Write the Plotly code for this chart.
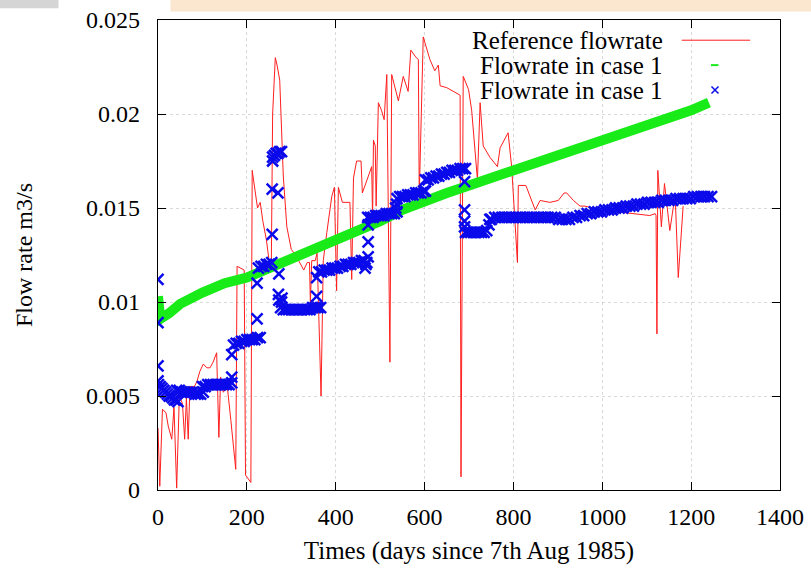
import plotly.graph_objects as go

# ---------------- data ----------------
ref_days = [0, 4, 10, 18, 23, 31, 36, 42, 48, 55, 60, 64, 68, 72, 82, 88, 94, 102, 110, 117,
            124, 132, 137, 141, 147, 156, 164, 175, 178, 194, 197, 209, 212, 218, 224, 230, 236,
            244, 250, 255, 258, 264, 268, 274, 278, 282, 290, 300, 312, 322, 328, 336, 341, 343,
            346, 354, 358, 367, 372, 380, 384, 391, 397, 402, 406, 415, 432, 436, 440, 447, 457,
            460, 475, 481, 483, 485, 489, 491, 496, 503, 509, 515, 522, 526, 541, 552, 563, 569,
            581, 586, 588, 597, 612, 623, 631, 635, 650, 680, 682, 687, 699, 706, 719, 725, 732,
            747, 764, 770, 788, 796, 809, 811, 828, 849, 860, 882, 901, 914, 920, 935, 950, 961,
            995, 1070, 1107, 1119, 1121, 1123, 1125, 1133, 1140, 1152, 1164, 1171, 1182]
ref_vals = [0.0033, 0.0002, 0.0043, 0.0041, 0.0034, 0.0027, 0.0044, 0.0001, 0.0050, 0.0046,
            0.0027, 0.0049, 0.0027, 0.0055, 0.0055, 0.0058, 0.0063, 0.0067, 0.0065, 0.0065,
            0.0068, 0.0073, 0.0028, 0.0060, 0.0052, 0.0055, 0.0037, 0.0011, 0.0119, 0.0117,
            0.0008, 0.0004, 0.0170, 0.0160, 0.0150, 0.0153, 0.0143, 0.0133, 0.0122, 0.0118,
            0.0200, 0.0230, 0.0226, 0.0218, 0.0195, 0.0167, 0.0140, 0.0128, 0.0124, 0.0120,
            0.0117, 0.0121, 0.0121, 0.0099, 0.0122, 0.0122, 0.0126, 0.0050, 0.0122, 0.0137,
            0.0145, 0.0156, 0.0161, 0.0106, 0.0161, 0.0153, 0.0153, 0.0112, 0.0166, 0.0175,
            0.0175, 0.0158, 0.0168, 0.0172, 0.0144, 0.0186, 0.0183, 0.0151, 0.0206, 0.0202,
            0.0197, 0.0221, 0.0068, 0.0221, 0.0207, 0.0220, 0.0212, 0.0234, 0.0230, 0.0229,
            0.0156, 0.0241, 0.0229, 0.0223, 0.0226, 0.0215, 0.0214, 0.0210, 0.0007, 0.0220,
            0.0213, 0.0202, 0.0165, 0.0206, 0.0183, 0.0177, 0.0172, 0.0182, 0.0190, 0.0172,
            0.0121, 0.0162, 0.0162, 0.0149, 0.0154, 0.0153, 0.0154, 0.0158, 0.0158, 0.0154,
            0.0151, 0.0151, 0.0149, 0.0147, 0.0146, 0.0147, 0.0146, 0.0083, 0.0170, 0.0140,
            0.0163, 0.0138, 0.0157, 0.0113, 0.0151]

case1_days = [0, 1, 5, 25, 50, 100, 150, 200, 250, 300, 350, 400, 450, 500, 550, 600, 650,
              700, 750, 800, 850, 900, 950, 1000, 1050, 1100, 1150, 1200, 1240]
case1_vals = [0.0103, 0.0092, 0.0091, 0.0094, 0.0099, 0.0105, 0.0110, 0.0113, 0.0118, 0.0123,
              0.0127, 0.0132, 0.0137, 0.0143, 0.0149, 0.0154, 0.0158, 0.0162, 0.0166, 0.0170,
              0.0174, 0.0177, 0.0181, 0.0185, 0.0189, 0.0194, 0.0198, 0.0202, 0.0206]

case1b_days = [
    0, 0, 0, 0,
    1, 5, 9, 13, 17, 21, 25, 29, 33, 37, 41, 45,
    42, 48, 54, 60, 66, 72, 78, 84, 90, 96, 102,
    100, 106, 112, 118, 124, 130, 136, 142, 148, 154, 160, 166,
    166, 166,
    170, 176, 182, 188, 194, 200, 206, 212, 218, 224, 230,
    223, 223,
    226, 232, 238, 244, 250, 256,
    257, 257, 258, 270, 272, 272, 271,
    258, 262, 266, 270, 274, 278,
    276, 282, 288, 294, 300, 306, 312, 318, 324, 330, 336, 342, 348, 354, 360, 366,
    357, 357, 278, 279,
    362, 368, 374, 380, 386, 392, 398, 404, 410, 416, 422, 428, 434, 440, 446, 452, 458, 464, 470,
    466, 468,
    473, 473, 473,
    472, 478, 484, 490, 496, 502, 508, 514, 520, 526, 532, 538,
    537, 535,
    538, 544, 550, 556, 562, 568, 574, 580, 586, 592, 598, 602,
    602, 608, 614, 620, 626, 632, 638, 644, 650, 656, 662, 668, 674, 680, 686, 692,
    690, 690, 690, 690,
    692, 698, 704, 710, 716, 722, 728, 734, 740,
    745, 747,
    750, 758, 766, 774, 782, 790, 798, 806, 814, 822, 830, 838, 846, 854, 862, 870, 878,
    886, 894, 902, 910, 918, 926, 934, 942, 950, 958, 966, 974, 982, 990, 998, 1006,
    1014, 1022, 1030, 1038, 1046, 1054, 1062, 1070, 1078, 1086, 1094, 1102, 1110, 1118,
    1126, 1134, 1142, 1150, 1158, 1166, 1174, 1182, 1190, 1198, 1206, 1214, 1222, 1230,
    1238, 1246]
case1b_vals = [
    0.0112, 0.0089, 0.0066, 0.0058,
    0.0056, 0.0055, 0.0054, 0.0053, 0.0052, 0.0051, 0.0050, 0.0050, 0.0049, 0.0048, 0.0048, 0.0047,
    0.0053, 0.0053, 0.0052, 0.0052, 0.0052, 0.0052, 0.0052, 0.0051, 0.0051, 0.0051, 0.0052,
    0.0055, 0.0055, 0.0056, 0.0056, 0.0056, 0.0056, 0.0056, 0.0056, 0.0056, 0.0056, 0.0056, 0.0057,
    0.0060, 0.0072,
    0.0077, 0.0078, 0.0078, 0.0079, 0.0079, 0.0080, 0.0080, 0.0080, 0.0080, 0.0081, 0.0081,
    0.0091, 0.0110,
    0.0118, 0.0119, 0.0119, 0.0120, 0.0120, 0.0121,
    0.0136, 0.0160, 0.0175, 0.0158, 0.0115, 0.0101, 0.0104,
    0.0177, 0.0178, 0.0179, 0.0179, 0.0180, 0.0180,
    0.0097, 0.0096, 0.0096, 0.0096, 0.0096, 0.0096, 0.0096, 0.0096, 0.0096, 0.0096, 0.0096,
    0.0096, 0.0097, 0.0097, 0.0097, 0.0097,
    0.0113, 0.0103, 0.0100, 0.0102,
    0.0116, 0.0116, 0.0117, 0.0117, 0.0117, 0.0118, 0.0118, 0.0118, 0.0119, 0.0119, 0.0120,
    0.0120, 0.0120, 0.0121, 0.0121, 0.0121, 0.0122, 0.0122, 0.0121,
    0.0118, 0.0120,
    0.0124, 0.0132, 0.0141,
    0.0145, 0.0145, 0.0145, 0.0146, 0.0146, 0.0146, 0.0146, 0.0147, 0.0147, 0.0147, 0.0147, 0.0148,
    0.0152, 0.0150,
    0.0155, 0.0156, 0.0156, 0.0156, 0.0157, 0.0157, 0.0157, 0.0158, 0.0158, 0.0158, 0.0159, 0.0159,
    0.0165, 0.0165, 0.0166, 0.0166, 0.0167, 0.0167, 0.0168, 0.0168, 0.0169, 0.0169, 0.0170,
    0.0170, 0.0170, 0.0171, 0.0171, 0.0171,
    0.0164, 0.0149, 0.0143, 0.0140,
    0.0137, 0.0137, 0.0137, 0.0137, 0.0137, 0.0137, 0.0137, 0.0137, 0.0138,
    0.0141, 0.0144,
    0.0144, 0.0145, 0.0145, 0.0145, 0.0145, 0.0145, 0.0145, 0.0145, 0.0145, 0.0145, 0.0145,
    0.0145, 0.0145, 0.0145, 0.0145, 0.0145, 0.0145,
    0.0145, 0.0145, 0.0144, 0.0144, 0.0144, 0.0144, 0.0145, 0.0145, 0.0146, 0.0146, 0.0147,
    0.0147, 0.0148, 0.0148, 0.0148, 0.0149,
    0.0149, 0.0149, 0.0150, 0.0150, 0.0150, 0.0151, 0.0151, 0.0151, 0.0152, 0.0152, 0.0152,
    0.0153, 0.0153, 0.0153,
    0.0153, 0.0154, 0.0154, 0.0154, 0.0154, 0.0155, 0.0155, 0.0155, 0.0155, 0.0155, 0.0156,
    0.0156, 0.0156, 0.0156,
    0.0156, 0.0156]

x_ticks = [0, 200, 400, 600, 800, 1000, 1200, 1400]
y_ticks = [0, 0.005, 0.01, 0.015, 0.02, 0.025]
y_tick_labels = ["0", "0.005", "0.01", "0.015", "0.02", "0.025"]

labels = ["Reference flowrate", "Flowrate in case 1", "Flowrate in case 1"]

RED = "rgb(255,30,30)"
GREEN = "rgb(25,235,25)"
BLUE = "rgb(10,10,235)"
FONT = "Liberation Serif, Times New Roman, serif"

fig = go.Figure()
fig.add_trace(go.Scatter(x=ref_days, y=ref_vals, mode="lines",
                         line=dict(color=RED, width=1), showlegend=False))
fig.add_trace(go.Scatter(x=case1_days, y=case1_vals, mode="lines",
                         line=dict(color=GREEN, width=10), showlegend=False))
fig.add_trace(go.Scatter(x=case1b_days, y=case1b_vals, mode="markers",
                         marker=dict(symbol="x-thin", size=11,
                                     line=dict(width=2.5, color=BLUE), color=BLUE),
                         showlegend=False))

# legend sample (blue cross) on overlay paper-like axes
fig.add_trace(go.Scatter(x=[0.8955], y=[0.851], xaxis="x2", yaxis="y2", mode="markers",
                         marker=dict(symbol="x-thin", size=7,
                                     line=dict(width=1.5, color=BLUE)),
                         showlegend=False, hoverinfo="skip"))

axis_common = dict(showline=True, linecolor="black", linewidth=1.2, mirror="allticks",
                   ticks="inside", ticklen=8, tickcolor="black", zeroline=False,
                   showgrid=True, gridcolor="rgba(170,170,170,0.45)", griddash="dot",
                   gridwidth=1, automargin=False,
                   tickfont=dict(family=FONT, size=24, color="black"))

fig.update_layout(
    width=811, height=571,
    margin=dict(l=158, r=31, t=20, b=81),
    paper_bgcolor="white", plot_bgcolor="white",
    font=dict(family=FONT, size=24, color="black"),
    xaxis=dict(range=[0, 1400], tickvals=x_ticks, ticklabelstandoff=5,
               title=dict(text="Times (days since 7th Aug 1985)", standoff=12,
                          font=dict(family=FONT, size=25)),
               **axis_common),
    yaxis=dict(range=[0, 0.025], tickvals=y_ticks, ticktext=y_tick_labels,
               ticklabelstandoff=12,
               title=dict(text="Flow rate m3/s", standoff=46,
                          font=dict(family=FONT, size=24)),
               **axis_common),
    xaxis2=dict(range=[0, 1], overlaying="x", visible=False),
    yaxis2=dict(range=[0, 1], overlaying="y", visible=False),
)

# legend texts (gnuplot style: text right-aligned, sample on the right)
for lab, yy in zip(labels, [0.957, 0.904, 0.851]):
    fig.add_annotation(text=lab, xref="paper", yref="paper", x=0.815, y=yy,
                       xanchor="right", yanchor="middle", showarrow=False,
                       font=dict(family=FONT, size=25, color="black"))

fig.add_shape(type="line", xref="paper", yref="paper", x0=0.842, x1=0.952,
              y0=0.957, y1=0.957, line=dict(color=RED, width=1))
fig.add_shape(type="line", xref="paper", yref="paper", x0=0.889, x1=0.901,
              y0=0.904, y1=0.904, line=dict(color=GREEN, width=2))

# faint coloured band at the top of the picture
fig.add_shape(type="rect", xref="paper", yref="paper", x0=0.02, x1=1.06,
              y0=1.018, y1=1.045, line=dict(width=0),
              fillcolor="rgba(250,222,192,0.75)", layer="below")
fig.add_shape(type="rect", xref="paper", yref="paper", x0=-0.26, x1=-0.16,
              y0=1.025, y1=1.045, line=dict(width=0),
              fillcolor="rgba(195,195,195,0.7)", layer="below")

fig.write_html("out.html", config={"displayModeBar": False},
               post_script="document.body.style.margin='0';")
